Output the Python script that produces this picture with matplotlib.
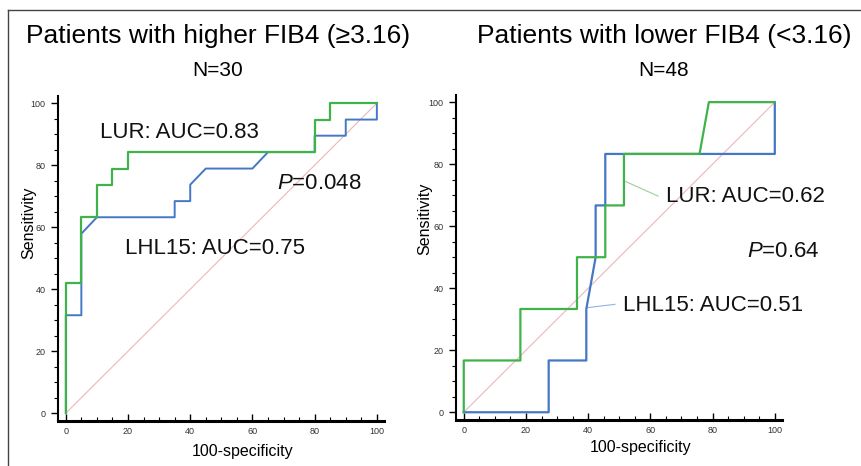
import matplotlib.pyplot as plt
from matplotlib.lines import Line2D
import numpy as np

plt.rcParams['font.family'] = ['Liberation Sans', 'DejaVu Sans']
plt.rcParams['mathtext.fontset'] = 'custom'
plt.rcParams['mathtext.it'] = 'Liberation Sans:italic'

# ROC curve points (100-specificity, sensitivity)
hi_lur_x = [0, 0, 5, 5, 10, 10, 15, 15, 20, 20, 80, 80, 85, 85, 100]
hi_lur_y = [0, 42.1, 42.1, 63.2, 63.2, 73.7, 73.7, 78.9, 78.9, 84.2, 84.2, 94.7, 94.7, 100, 100]
hi_lhl_x = [0, 0, 5, 5, 10, 35, 35, 40, 40, 45, 60, 65, 80, 80, 90, 90, 100, 100]
hi_lhl_y = [0, 31.6, 31.6, 57.9, 63.2, 63.2, 68.4, 68.4, 73.7, 78.9, 78.9, 84.2, 84.2, 89.5, 89.5, 94.7, 94.7, 100]

lo_lur_x = [0, 0, 18.2, 18.2, 36.4, 36.4, 45.5, 45.5, 51.5, 51.5, 75.8, 78.8, 100]
lo_lur_y = [0, 16.7, 16.7, 33.3, 33.3, 50, 50, 66.7, 66.7, 83.3, 83.3, 100, 100]
lo_lhl_x = [0, 27.3, 27.3, 39.4, 39.4, 42.4, 42.4, 45.5, 45.5, 100, 100]
lo_lhl_y = [0, 0, 16.7, 16.7, 33.3, 50, 66.7, 66.7, 83.3, 83.3, 100]

titles = ['Patients with higher FIB4 (\u22653.16)', 'Patients with lower FIB4 (<3.16)']
n_labels = ['N=30', 'N=48']
ticks = [0, 20, 40, 60, 80, 100]

GREEN = '#3fb34a'
BLUE = '#4477c4'
DIAG = '#e9b8bc'

fig = plt.figure(figsize=(8.61, 4.66), dpi=100)
fig.patch.set_facecolor('white')

ax1 = fig.add_axes([0.0674, 0.0966, 0.3786, 0.6974])
ax2 = fig.add_axes([0.5296, 0.0987, 0.3786, 0.6974])

for ax in (ax1, ax2):
    ax.set_xlim(-2.5, 102.3)
    ax.set_ylim(-2.5, 102.3)
    ax.plot([0, 100], [0, 100], color=DIAG, lw=0.8, zorder=1)
    for side in ('top', 'right'):
        ax.spines[side].set_visible(False)
    ax.spines['bottom'].set_linewidth(2.2)
    ax.spines['left'].set_linewidth(1.5)
    ax.set_xticks(ticks)
    ax.set_yticks(ticks)
    ax.set_xticks(np.arange(0, 101, 5), minor=True)
    ax.set_yticks(np.arange(0, 101, 5), minor=True)
    ax.tick_params(which='major', direction='in', length=5, width=1, labelsize=6.5,
                   labelcolor='#333333', pad=4)
    ax.tick_params(which='minor', direction='in', length=3, width=0.8)
    ax.tick_params(axis='y', which='both', direction='out')
    ax.set_ylabel('Sensitivity', fontsize=11.5)
    ax.set_xlabel('100-specificity', fontsize=11.5)

ax1.yaxis.set_label_coords(-0.068, 0.61)
ax1.xaxis.set_label_coords(0.566, -0.071)
ax2.yaxis.set_label_coords(-0.072, 0.62)
ax2.xaxis.set_label_coords(0.567, -0.062)

ax1.plot(hi_lhl_x, hi_lhl_y, color=BLUE, lw=1.4, zorder=3)
ax1.plot(hi_lur_x, hi_lur_y, color=GREEN, lw=1.6, zorder=4)
ax2.plot(lo_lhl_x, lo_lhl_y, color=BLUE, lw=1.6, zorder=3)
ax2.plot(lo_lur_x, lo_lur_y, color=GREEN, lw=1.6, zorder=4)

txt = dict(fontsize=16, va='center', ha='left', color='#111111')
ax1.text(11, 90.5, 'LUR: AUC=0.83', **txt)
ax1.text(68, 74, '$P$=0.048', **txt)
ax1.text(19, 53.2, 'LHL15: AUC=0.75', **txt)

ax2.text(65, 69.7, 'LUR: AUC=0.62', clip_on=False, **txt)
ax2.text(91, 51.9, '$P$=0.64', clip_on=False, **txt)
ax2.text(51.3, 34.4, 'LHL15: AUC=0.51', clip_on=False, **txt)
ax2.plot([51.8, 62.5], [74.5, 69.7], color='#9ccf9c', lw=0.8)
ax2.plot([39.5, 48.6], [33.7, 34.8], color='#8fb3e6', lw=0.8)

fig.text(0.253, 0.922, titles[0], fontsize=19, ha='center', va='center')
fig.text(0.771, 0.922, titles[1], fontsize=19, ha='center', va='center')
fig.text(0.253, 0.849, n_labels[0], fontsize=15, ha='center', va='center')
fig.text(0.771, 0.849, n_labels[1], fontsize=15, ha='center', va='center')

# frame around the whole figure (top and left edges visible)
fig.add_artist(Line2D([8 / 861, 1.0], [1 - 10 / 466, 1 - 10 / 466], color='#444444', lw=1.0,
                      transform=fig.transFigure))
fig.add_artist(Line2D([8 / 861, 8 / 861], [0.0, 1 - 10 / 466], color='#444444', lw=1.0,
                      transform=fig.transFigure))

fig.savefig('out.png', dpi=100)
